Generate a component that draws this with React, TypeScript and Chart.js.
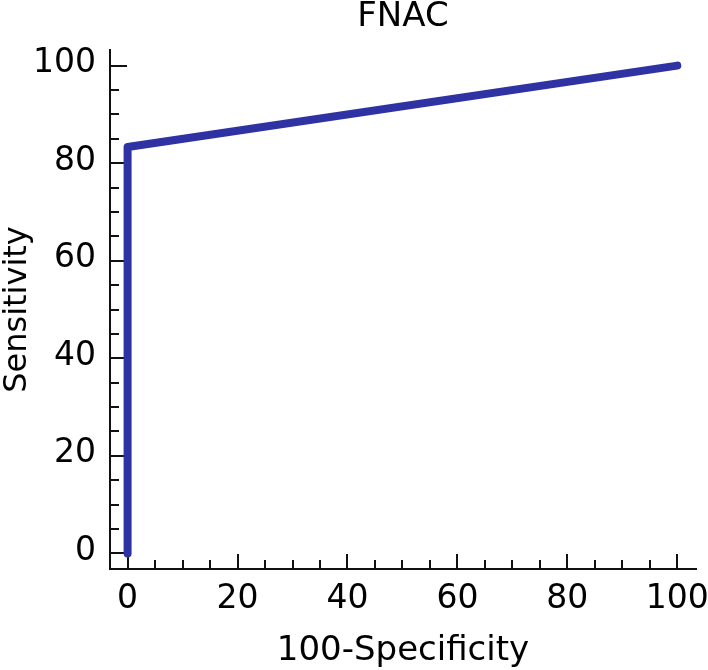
import React, { useEffect, useRef } from "react";
import { Chart, registerables } from "chart.js";

Chart.register(...registerables);

const chartTitle = "FNAC";
const xAxisTitle = "100-Specificity";
const yAxisTitle = "Sensitivity";

const falsePositiveRate = [0, 0, 100];
const sensitivity = [0, 83.3, 100];

const xTickLabels = [0, 20, 40, 60, 80, 100];
const yTickLabels = [0, 20, 40, 60, 80, 100];
const minorTickValues = [5, 10, 15, 25, 30, 35, 45, 50, 55, 65, 70, 75, 85, 90, 95];

const FONT = "'DejaVu Sans', sans-serif";
const TEXT = "#000000";
const AXIS = "#111111";
const LINE = "#2e32a2";

const innerTicks = {
  id: "innerTicks",
  beforeDatasetsDraw(chart: any) {
    const { ctx, chartArea, scales } = chart;
    const xs = scales.x;
    const ys = scales.y;
    ctx.save();
    ctx.strokeStyle = AXIS;
    ctx.lineWidth = 2;
    ctx.beginPath();
    const b = chartArea.bottom;
    const l = chartArea.left;
    for (const v of xTickLabels) {
      const px = Math.round(xs.getPixelForValue(v));
      ctx.moveTo(px, b);
      ctx.lineTo(px, b - 15);
    }
    for (const v of minorTickValues) {
      const px = Math.round(xs.getPixelForValue(v));
      ctx.moveTo(px, b);
      ctx.lineTo(px, b - 9);
    }
    for (const v of yTickLabels) {
      const py = Math.round(ys.getPixelForValue(v));
      ctx.moveTo(l, py);
      ctx.lineTo(l + 17, py);
    }
    for (const v of minorTickValues) {
      const py = Math.round(ys.getPixelForValue(v));
      ctx.moveTo(l, py);
      ctx.lineTo(l + 9, py);
    }
    ctx.stroke();
    ctx.restore();
  },
};

const zeroPadding = (s: any) => {
  s.paddingLeft = 0;
  s.paddingRight = 0;
  s.paddingTop = 0;
  s.paddingBottom = 0;
};

export default function App() {
  const ref = useRef<HTMLCanvasElement>(null);

  useEffect(() => {
    if (!ref.current) return;
    const chart = new Chart(ref.current, {
      type: "scatter",
      data: {
        datasets: [
          {
            data: falsePositiveRate.map((x, i) => ({ x, y: sensitivity[i] })),
            showLine: true,
            borderColor: LINE,
            backgroundColor: LINE,
            borderWidth: 8,
            borderCapStyle: "round",
            borderJoinStyle: "round",
            pointRadius: 0,
            pointHoverRadius: 0,
            clip: false,
          } as any,
        ],
      },
      options: {
        responsive: false,
        animation: false,
        events: [],
        layout: { padding: { left: 0, right: 12, top: 0, bottom: 0 } },
        plugins: {
          legend: { display: false },
          tooltip: { enabled: false },
          title: {
            display: true,
            text: chartTitle,
            fullSize: false,
            color: TEXT,
            font: { family: FONT, size: 34, weight: "normal", lineHeight: 1 },
            padding: { top: 0, bottom: 16 },
          },
        },
        scales: {
          x: {
            type: "linear",
            min: -3.2,
            max: 103.4,
            afterBuildTicks: (s: any) => {
              s.ticks = xTickLabels.map((v) => ({ value: v }));
            },
            afterFit: (s: any) => {
              s.height = 101;
              zeroPadding(s);
            },
            grid: { display: false, drawTicks: false },
            border: { display: true, color: AXIS, width: 2 },
            ticks: {
              color: TEXT,
              padding: 11,
              maxRotation: 0,
              font: { family: FONT, size: 33 },
              callback: (v: any) => String(v),
            },
            title: {
              display: true,
              text: xAxisTitle,
              color: TEXT,
              font: { family: FONT, size: 34, lineHeight: 1 },
              padding: { top: 0, bottom: 2 },
            },
          },
          y: {
            type: "linear",
            min: -3.2,
            max: 103.2,
            afterBuildTicks: (s: any) => {
              s.ticks = yTickLabels.map((v) => ({ value: v }));
            },
            afterFit: (s: any) => {
              s.width = 110;
              zeroPadding(s);
            },
            grid: { display: false, drawTicks: false },
            border: { display: true, color: AXIS, width: 2 },
            ticks: {
              color: TEXT,
              padding: 14,
              labelOffset: -2,
              font: { family: FONT, size: 33 },
              callback: (v: any) => String(v),
            },
            title: {
              display: true,
              text: yAxisTitle,
              color: TEXT,
              font: { family: FONT, size: 32, lineHeight: 1 },
              padding: { top: 2, bottom: 0 },
            },
          },
        },
      },
      plugins: [innerTicks],
    });
    return () => chart.destroy();
  }, []);

  return (
    <div style={{ position: "absolute", left: 0, top: 0, width: 708, height: 670, background: "#ffffff" }}>
      <canvas ref={ref} width={708} height={670} style={{ display: "block" }} />
    </div>
  );
}
